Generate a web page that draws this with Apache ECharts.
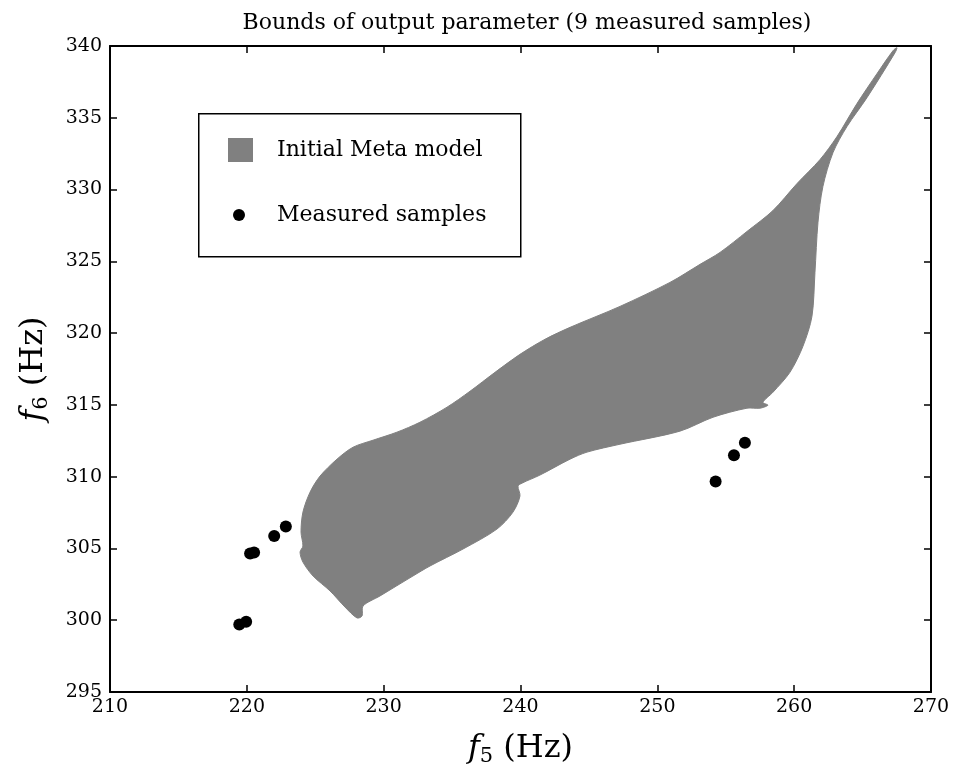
<!DOCTYPE html>
<html>
<head>
<meta charset="utf-8">
<script src="https://cdn.jsdelivr.net/npm/echarts@6/dist/echarts.min.js"></script>
<style>
html,body{margin:0;padding:0;background:#fff;}
#chart{width:953px;height:772px;}
</style>
</head>
<body>
<div id="chart"></div>
<script>
// Outline of the "Initial Meta model" region (f5, f6 in Hz)
const shapeX = [228.05,227.17,226.08,224.84,224.10,223.89,224.10,223.96,224.10,224.62,225.35,226.59,227.76,229.22,230.97,232.65,234.63,236.31,238.14,239.96,241.79,243.62,247.27,250.92,253.12,254.58,256.55,258.45,260.21,261.89,263.13,264.59,266.05,267.22,267.51,267.37,265.32,263.86,262.84,262.10,261.74,261.52,261.30,260.64,259.69,258.45,257.72,258.08,257.50,256.55,254.07,251.65,247.27,244.86,243.62,241.42,240.11,239.82,239.96,239.45,238.28,235.80,233.39,232.14,229.73,228.49,228.42];
const shapeY = [300.16,300.92,302.04,303.08,304.05,304.75,305.17,306.14,307.53,308.92,310.04,311.22,312.05,312.54,313.10,313.79,314.84,315.95,317.27,318.52,319.57,320.40,321.86,323.53,324.79,325.62,327.08,328.54,330.42,332.09,333.69,335.99,338.07,339.67,339.88,339.53,336.40,334.39,332.58,330.21,327.71,324.23,321.17,319.08,317.27,315.88,315.18,314.98,314.77,314.77,314.14,313.17,312.26,311.71,311.22,310.11,309.55,309.34,308.65,307.53,306.35,304.96,303.78,303.08,301.69,300.99,300.30];
// Measured samples
const sampleF5 = [219.45,219.95,220.24,220.53,222.0,222.85,254.26,255.6,256.4];
const sampleF6 = [299.7,299.9,304.65,304.72,305.87,306.53,309.66,311.5,312.37];
// Axis ticks
const xTicks = [210,220,230,240,250,260,270];
const yTicks = [295,300,305,310,315,320,325,330,335,340];

const FONT = '"DejaVu Serif", serif';
const chart = echarts.init(document.getElementById('chart'), null, {renderer:'canvas'});

const axisCommon = {
  axisLine:{show:true, onZero:false, lineStyle:{color:'#000', width:2}},
  axisTick:{show:true, inside:true, length:7, lineStyle:{color:'#000', width:1.5}},
  splitLine:{show:false}
};
const nameRich = function(sub){
  return {
    i:{fontFamily:FONT, fontStyle:'italic', fontSize:32, color:'#000'},
    s:{fontFamily:FONT, fontSize:21, color:'#000', verticalAlign:'bottom', padding:[15,0,0,0]},
    n:{fontFamily:FONT, fontSize:32, color:'#000'}
  };
};

chart.setOption({
  backgroundColor:'#fff',
  animation:false,
  title:{
    text:'Bounds of output parameter (9 measured samples)',
    left:522, top:7, textAlign:'center',
    textStyle:{fontFamily:FONT, fontSize:22, fontWeight:'normal', color:'#000'}
  },
  grid:{left:110, right:22, top:46, bottom:79},
  legend:[{
    data:['Initial Meta model'],
    left:228, top:137, padding:0,
    itemWidth:25, itemHeight:24, icon:'rect',
    textStyle:{fontFamily:FONT, fontSize:22, lineHeight:26, color:'#000', padding:[0,0,0,19]},
    selectedMode:false
  },{
    data:['Measured samples'],
    left:233, top:202, padding:0,
    itemWidth:12, itemHeight:12, icon:'circle',
    textStyle:{fontFamily:FONT, fontSize:22, lineHeight:26, color:'#000', padding:[0,0,0,27]},
    selectedMode:false
  }],
  graphic:[{
    type:'rect', left:198, top:113, z:-1,
    shape:{width:322, height:143},
    style:{fill:'#fff', stroke:'#000', lineWidth:1.5}
  }],
  xAxis:[Object.assign({
    type:'value', min:xTicks[0], max:xTicks[xTicks.length-1], interval:10,
    position:'bottom',
    axisLabel:{fontFamily:FONT, fontSize:19, color:'#000', margin:6},
    name:'{i|f}{s|5}{n| (Hz)}', nameLocation:'middle', nameGap:39,
    nameTextStyle:{rich:nameRich()}
  }, axisCommon),
  Object.assign({
    type:'value', min:xTicks[0], max:xTicks[xTicks.length-1], interval:10,
    position:'top', axisLabel:{show:false}
  }, axisCommon)],
  yAxis:[Object.assign({
    type:'value', min:yTicks[0], max:yTicks[yTicks.length-1], interval:5,
    position:'left',
    axisLabel:{fontFamily:FONT, fontSize:19, color:'#000', margin:8},
    name:'{i|f}{s|6}{n| (Hz)}', nameLocation:'middle', nameGap:58, nameRotate:90,
    nameTextStyle:{rich:nameRich()}
  }, axisCommon),
  Object.assign({
    type:'value', min:yTicks[0], max:yTicks[yTicks.length-1], interval:5,
    position:'right', axisLabel:{show:false}
  }, axisCommon)],
  series:[{
    type:'custom',
    name:'Initial Meta model',
    xAxisIndex:0, yAxisIndex:0,
    itemStyle:{color:'#808080'},
    data:[[shapeX[0], shapeY[0]]],
    clip:true,
    silent:true,
    renderItem:function(params, api){
      const pts = shapeX.map(function(x,i){ return api.coord([x, shapeY[i]]); });
      return {type:'polygon', shape:{points:pts, smooth:0.3}, style:{fill:'#808080', stroke:'#808080', lineWidth:1}};
    }
  },{
    type:'scatter',
    name:'Measured samples',
    xAxisIndex:0, yAxisIndex:0,
    symbol:'circle', symbolSize:12,
    itemStyle:{color:'#000', opacity:1},
    data:sampleF5.map(function(x,i){ return [x, sampleF6[i]]; }),
    z:5
  }]
});
</script>
</body>
</html>
